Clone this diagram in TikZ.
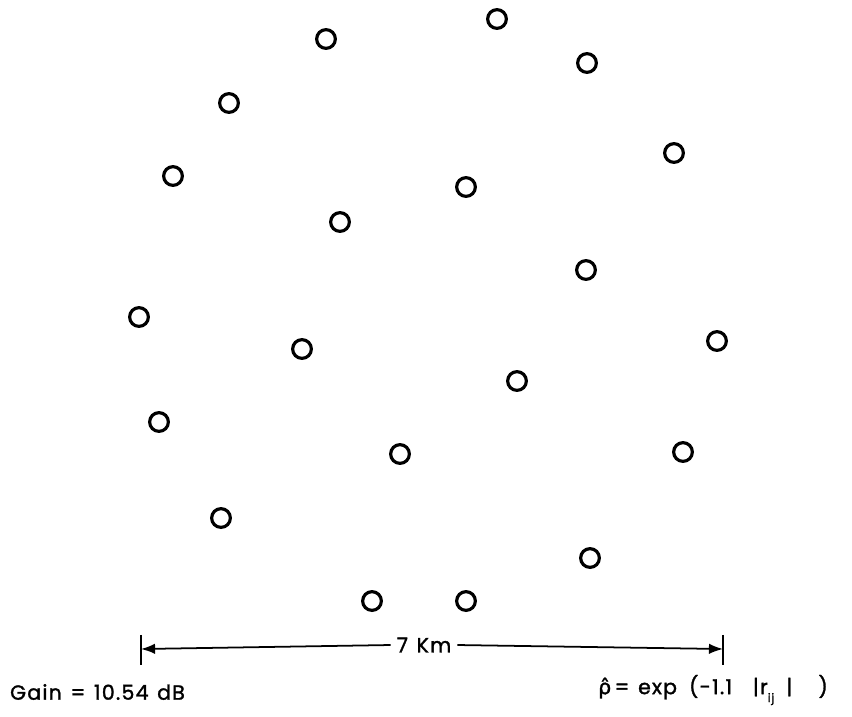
\documentclass[tikz,border=0pt]{standalone}
\usepackage{fontspec}
\setmainfont{Poppins}[WordSpace=1.3, LetterSpace=6, FakeBold=1.5]
\newfontfamily\greekfont{DejaVu Sans}[FakeBold=1.5]
\usetikzlibrary{arrows.meta}

\tikzset{
    site/.style={circle, draw, line width=2.7pt, minimum size=16pt, inner sep=0pt},
    scalebar/.style={line width=1.5pt},
}

\begin{document}
\begin{tikzpicture}[x=0.03cm, y=-0.03cm, font=\fontsize{17.5}{19}\selectfont]

    \useasboundingbox (0,0) rectangle (852,716);

    \foreach \n/\px/\py in {1/497/19, 2/326/39, 3/587/63, 4/229/103, 5/674/153,
        6/173/176, 7/466/187, 8/340/222, 9/586/270, 10/139/317,
        11/717/341, 12/302/349, 13/517/381, 14/159/422, 15/400/454,
        16/683/452, 17/221/518, 18/590/558, 19/372/601, 20/466/601}
        \node[site] (s\n) at (\px,\py) {};

    \coordinate (barL) at (141,649);
    \coordinate (barR) at (723,649);
    \node[inner sep=5pt] (km) at (424,645) {7 Km};

    \draw[scalebar, -{Latex[length=12pt,width=9pt]}] (km.west) -- (barL);
    \draw[scalebar, -{Latex[length=12pt,width=9pt]}] (km.east) -- (barR);
    \draw[scalebar] ([yshift=12]barL) -- ([yshift=-14]barL);
    \draw[scalebar] ([yshift=12]barR) -- ([yshift=-14]barR);

    \node[anchor=west] (gain) at (6,692) {Gain = 10.54 dB};
    \node[anchor=west] (corr) at (594,690)
        {{\greekfont ρ̂}\,= exp \,(-1.1 \ \,|r\raisebox{-0.7ex}{\normalsize ij} \,| \ \ )};

\end{tikzpicture}
\end{document}
